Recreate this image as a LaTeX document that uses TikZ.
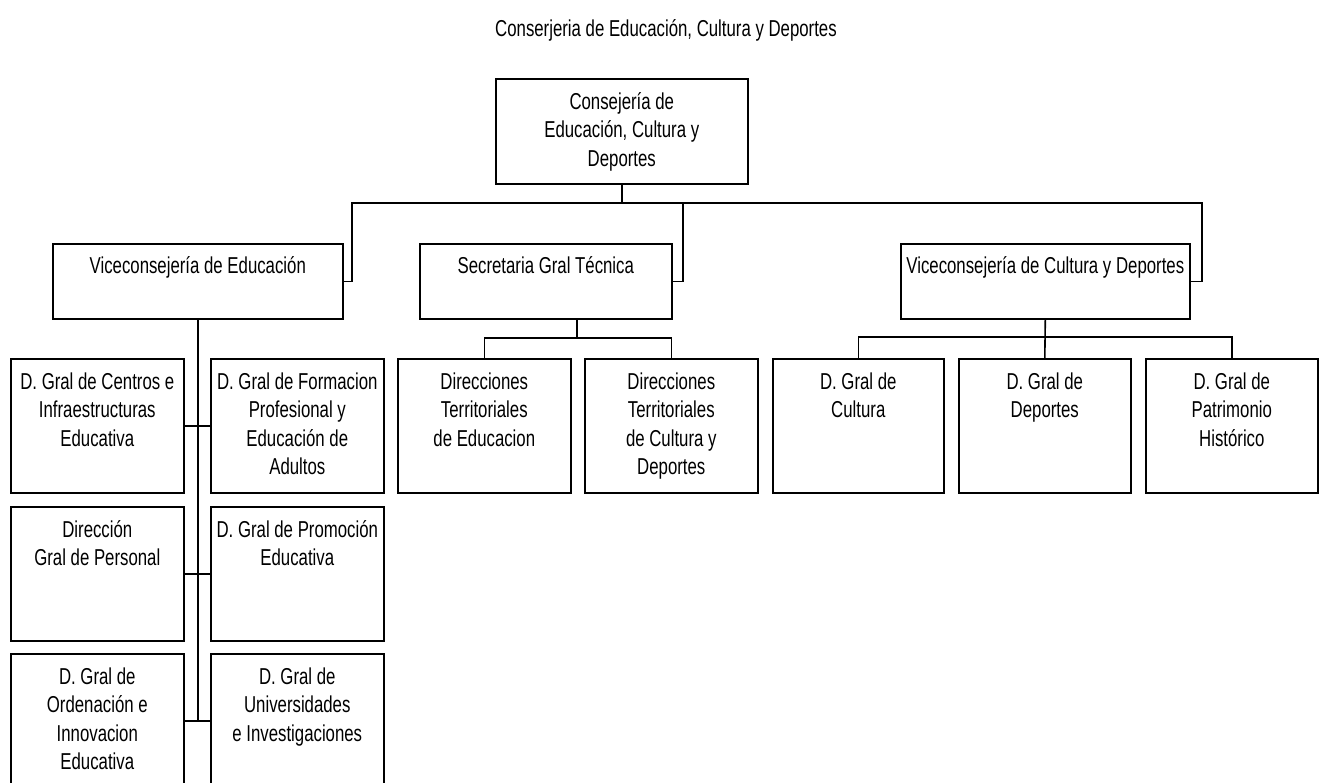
\documentclass[tikz,border=0pt]{standalone}
\usepackage{fontspec}
\setmainfont{Liberation Sans}[FakeStretch=0.73]
\begin{document}
\begin{tikzpicture}[x=1pt,y=-1pt,
  box/.style={draw=black, line width=1.6pt, fill=white, inner sep=0pt, anchor=north west},
  txt/.style={inner sep=0pt, anchor=north, align=center, font=\fontsize{23}{28.5}\selectfont},
  conn/.style={draw=black, line width=1.6pt}]
\clip (0,0) rectangle (1322,782);
\fill[white] (0,0) rectangle (1322,782);
\newcommand{\fl}{\rule{0pt}{22pt}}
% title
\node[txt] (title) at (666,14) {\fl Conserjeria de Educación, Cultura y Deportes};
% top
\node[box, minimum width=252pt, minimum height=105pt] (top) at (495,78) {};
\node[txt] (ttop) at ([yshift=-9pt]top.north) {\fl Consejería de\\Educación, Cultura y\\Deportes};
% level 2
\node[box, minimum width=290pt, minimum height=75pt] (vE) at (52,243) {};
\node[txt] at ([yshift=-8pt]vE.north) {\fl Viceconsejería de Educación};
\node[box, minimum width=252pt, minimum height=75pt] (sec) at (419,243) {};
\node[txt] at ([yshift=-8pt]sec.north) {\fl Secretaria Gral Técnica};
\node[box, minimum width=289pt, minimum height=75pt] (vC) at (900,243) {};
\node[txt] at ([yshift=-8pt]vC.north) {\fl Viceconsejería de Cultura y Deportes};
% bus
\coordinate (b1) at (352,203);
\coordinate (b2) at (683,203);
\coordinate (b3) at (1202,203);
\draw[conn] (vE.east) -| (b1) -| (top.south);
\draw[conn] (sec.east) -| (b2) -| (top.south);
\draw[conn] (vC.east) -| (b3) -| (top.south);
% left column
\tikzset{kid/.style={box, minimum width=173pt, minimum height=134pt}}
\node[kid] (l1) at (10,358) {};
\node[txt] at ([yshift=-9pt]l1.north) {\fl D. Gral de Centros e\\Infraestructuras\\Educativa};
\node[kid] (r1) at (210,358) {};
\node[txt] at ([yshift=-9pt]r1.north) {\fl D. Gral de Formacion\\Profesional y\\Educación de\\Adultos};
\node[kid] (l2) at (10,506) {};
\node[txt] at ([yshift=-9pt]l2.north) {\fl Dirección\\Gral de Personal};
\node[kid] (r2) at (210,506) {};
\node[txt] at ([yshift=-9pt]r2.north) {\fl D. Gral de Promoción\\Educativa};
\node[kid] (l3) at (10,653) {};
\node[txt] at ([yshift=-9pt]l3.north) {\fl D. Gral de\\Ordenación e\\Innovacion\\Educativa};
\node[kid] (r3) at (210,653) {};
\node[txt] at ([yshift=-9pt]r3.north) {\fl D. Gral de\\Universidades\\e Investigaciones};
\draw[conn] (vE.south) -- (vE.south |- l3.east);
\draw[conn] (l1.east) -- (r1.west);
\draw[conn] (l2.east) -- (r2.west);
\draw[conn] (l3.east) -- (r3.west);
% secretaria children
\node[kid] (dte) at (397,358) {};
\node[txt] at ([yshift=-9pt]dte.north) {\fl Direcciones\\Territoriales\\de Educacion};
\node[kid] (dtc) at (584,358) {};
\node[txt] at ([yshift=-9pt]dtc.north) {\fl Direcciones\\Territoriales\\de Cultura y\\Deportes};
\coordinate (sj) at (577,338);
\draw[conn] (sec.south -| sj) -- (sj);
\draw[conn] (dte.north) |- (sj) -| (dtc.north);
% cultura children
\node[kid, minimum width=171pt] (cul) at (772,358) {};
\node[txt] at ([yshift=-9pt]cul.north) {\fl D. Gral de\\Cultura};
\node[kid, minimum width=172pt] (dep) at (958,358) {};
\node[txt] at ([yshift=-9pt]dep.north) {\fl D. Gral de\\Deportes};
\node[kid, minimum width=172pt] (pat) at (1145,358) {};
\node[txt] at ([yshift=-9pt]pat.north) {\fl D. Gral de\\Patrimonio\\Histórico};
\coordinate (cj) at (1044,337);
\draw[conn] (cul.north) |- (cj) -| (pat.north);
\draw[conn] (vC.south) -- (dep.north);
\end{tikzpicture}
\end{document}
